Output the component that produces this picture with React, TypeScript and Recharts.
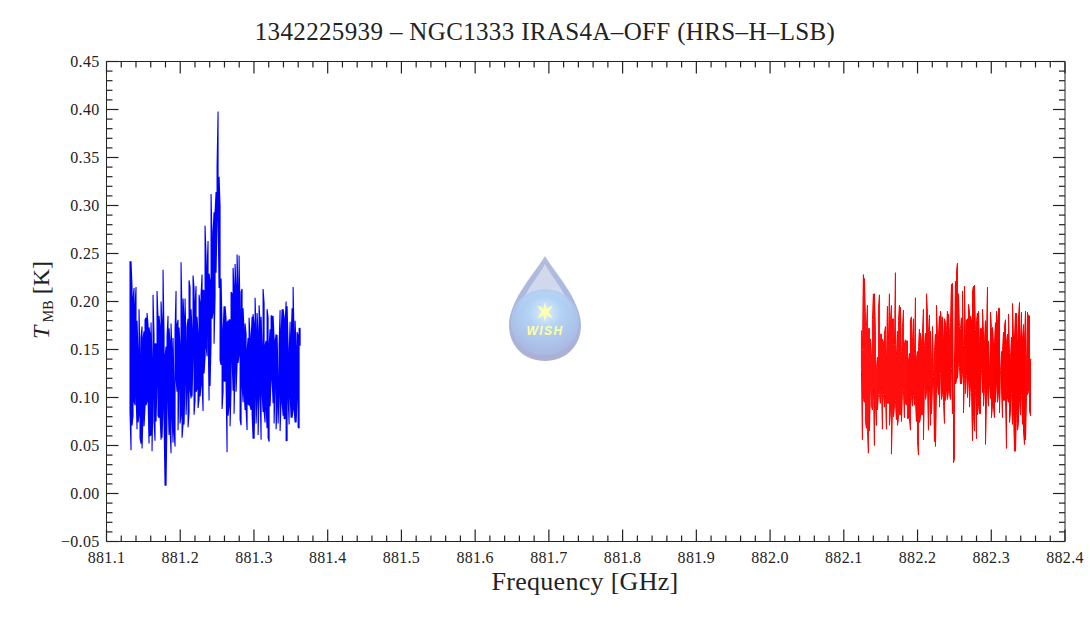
import { LineChart, Line, XAxis, YAxis } from "recharts"

const blueHigh = [
  0.242, 0.242, 0.215, 0.203, 0.214, 0.195, 0.215, 0.18, 0.146, 0.192, 0.138, 0.163, 0.174, 0.161, 0.169, 0.181, 0.183, 0.188, 0.176, 0.173,
  0.166, 0.178, 0.137, 0.207, 0.164, 0.156, 0.156, 0.211, 0.183, 0.185, 0.173, 0.2, 0.178, 0.233, 0.164, 0.143, 0.153, 0.164, 0.185, 0.172,
  0.157, 0.177, 0.147, 0.162, 0.109, 0.17, 0.211, 0.176, 0.181, 0.173, 0.154, 0.241, 0.181, 0.203, 0.182, 0.203, 0.152, 0.174, 0.182, 0.222,
  0.215, 0.192, 0.169, 0.227, 0.214, 0.198, 0.216, 0.184, 0.165, 0.207, 0.198, 0.207, 0.228, 0.212, 0.211, 0.279, 0.247, 0.232, 0.263, 0.229,
  0.221, 0.312, 0.261, 0.273, 0.293, 0.293, 0.314, 0.341, 0.398, 0.33, 0.299, 0.224, 0.171, 0.167, 0.195, 0.195, 0.182, 0.178, 0.18, 0.181,
  0.181, 0.21, 0.208, 0.235, 0.214, 0.239, 0.214, 0.249, 0.212, 0.248, 0.181, 0.21, 0.213, 0.193, 0.167, 0.177, 0.166, 0.149, 0.162, 0.183,
  0.165, 0.158, 0.184, 0.187, 0.176, 0.204, 0.166, 0.188, 0.167, 0.196, 0.178, 0.184, 0.15, 0.213, 0.198, 0.154, 0.159, 0.192, 0.183, 0.154,
  0.171, 0.185, 0.185, 0.185, 0.161, 0.158, 0.166, 0.165, 0.117, 0.154, 0.191, 0.167, 0.192, 0.192, 0.183, 0.178, 0.2, 0.195, 0.152, 0.143,
  0.179, 0.161, 0.193, 0.215, 0.161, 0.18, 0.149, 0.168, 0.165, 0.172, 0.172,
]

const blueLow = [
  0.085, 0.045, 0.071, 0.081, 0.096, 0.092, 0.105, 0.067, 0.074, 0.082, 0.058, 0.052, 0.047, 0.082, 0.07, 0.09, 0.092, 0.096, 0.101, 0.052,
  0.06, 0.061, 0.044, 0.106, 0.075, 0.055, 0.075, 0.116, 0.081, 0.079, 0.082, 0.056, 0.058, 0.092, 0.077, 0.008, 0.008, 0.083, 0.101, 0.061,
  0.068, 0.042, 0.081, 0.053, 0.065, 0.049, 0.12, 0.106, 0.066, 0.115, 0.073, 0.082, 0.058, 0.072, 0.072, 0.12, 0.082, 0.108, 0.069, 0.084,
  0.109, 0.099, 0.101, 0.146, 0.082, 0.097, 0.106, 0.109, 0.089, 0.098, 0.101, 0.114, 0.114, 0.086, 0.125, 0.142, 0.153, 0.143, 0.173, 0.097,
  0.112, 0.158, 0.182, 0.189, 0.156, 0.205, 0.23, 0.289, 0.289, 0.214, 0.139, 0.134, 0.088, 0.106, 0.117, 0.117, 0.114, 0.043, 0.081, 0.092,
  0.07, 0.11, 0.14, 0.107, 0.083, 0.133, 0.106, 0.135, 0.136, 0.145, 0.077, 0.071, 0.113, 0.095, 0.106, 0.087, 0.087, 0.066, 0.093, 0.092,
  0.091, 0.087, 0.083, 0.057, 0.057, 0.105, 0.073, 0.1, 0.061, 0.101, 0.109, 0.056, 0.105, 0.085, 0.085, 0.074, 0.09, 0.068, 0.058, 0.054,
  0.091, 0.12, 0.12, 0.094, 0.073, 0.114, 0.067, 0.094, 0.073, 0.106, 0.065, 0.096, 0.096, 0.081, 0.078, 0.078, 0.055, 0.055, 0.101, 0.072,
  0.103, 0.079, 0.079, 0.089, 0.087, 0.074, 0.074, 0.101, 0.069, 0.068, 0.154,
]

const redHigh = [
  0.17, 0.15, 0.228, 0.224, 0.185, 0.174, 0.196, 0.172, 0.172, 0.161, 0.146, 0.181, 0.208, 0.208, 0.17, 0.131, 0.142, 0.193, 0.207, 0.166,
  0.166, 0.161, 0.158, 0.167, 0.174, 0.136, 0.195, 0.16, 0.208, 0.181, 0.196, 0.182, 0.182, 0.155, 0.23, 0.144, 0.169, 0.18, 0.196, 0.194,
  0.148, 0.173, 0.191, 0.157, 0.16, 0.159, 0.159, 0.138, 0.146, 0.181, 0.184, 0.158, 0.182, 0.146, 0.204, 0.141, 0.148, 0.153, 0.171, 0.167,
  0.159, 0.168, 0.192, 0.154, 0.167, 0.208, 0.19, 0.169, 0.186, 0.169, 0.142, 0.174, 0.129, 0.149, 0.166, 0.196, 0.167, 0.165, 0.185, 0.19,
  0.181, 0.184, 0.162, 0.182, 0.178, 0.17, 0.19, 0.187, 0.167, 0.178, 0.218, 0.219, 0.083, 0.136, 0.221, 0.232, 0.24, 0.208, 0.174, 0.172,
  0.183, 0.211, 0.154, 0.216, 0.167, 0.181, 0.182, 0.197, 0.19, 0.185, 0.181, 0.211, 0.216, 0.217, 0.171, 0.18, 0.188, 0.19, 0.158, 0.172,
  0.172, 0.192, 0.17, 0.16, 0.18, 0.168, 0.215, 0.159, 0.134, 0.189, 0.173, 0.173, 0.158, 0.157, 0.178, 0.19, 0.181, 0.193, 0.193, 0.128,
  0.148, 0.15, 0.168, 0.175, 0.181, 0.159, 0.166, 0.187, 0.147, 0.142, 0.163, 0.198, 0.163, 0.163, 0.188, 0.188, 0.16, 0.185, 0.199, 0.162,
  0.189, 0.162, 0.176, 0.162, 0.19, 0.14, 0.189, 0.186, 0.185, 0.14, 0.14,
]

const redLow = [
  0.129, 0.056, 0.098, 0.095, 0.075, 0.068, 0.065, 0.042, 0.065, 0.11, 0.091, 0.087, 0.111, 0.05, 0.092, 0.071, 0.087, 0.103, 0.103, 0.094,
  0.112, 0.067, 0.103, 0.09, 0.103, 0.067, 0.094, 0.094, 0.071, 0.084, 0.041, 0.086, 0.08, 0.09, 0.097, 0.077, 0.071, 0.077, 0.082, 0.082,
  0.075, 0.106, 0.108, 0.079, 0.094, 0.092, 0.078, 0.078, 0.078, 0.066, 0.1, 0.091, 0.102, 0.092, 0.096, 0.075, 0.054, 0.04, 0.074, 0.078,
  0.082, 0.082, 0.056, 0.114, 0.098, 0.103, 0.113, 0.066, 0.112, 0.071, 0.083, 0.109, 0.122, 0.054, 0.049, 0.104, 0.113, 0.103, 0.09, 0.125,
  0.098, 0.103, 0.095, 0.073, 0.097, 0.105, 0.098, 0.106, 0.104, 0.098, 0.13, 0.083, 0.032, 0.036, 0.114, 0.117, 0.12, 0.135, 0.131, 0.114,
  0.114, 0.124, 0.084, 0.119, 0.104, 0.123, 0.1, 0.117, 0.09, 0.112, 0.105, 0.055, 0.08, 0.065, 0.107, 0.057, 0.082, 0.091, 0.083, 0.083,
  0.129, 0.105, 0.091, 0.108, 0.051, 0.093, 0.107, 0.091, 0.113, 0.099, 0.079, 0.091, 0.089, 0.079, 0.095, 0.114, 0.095, 0.103, 0.084, 0.128,
  0.107, 0.079, 0.097, 0.097, 0.095, 0.047, 0.098, 0.095, 0.074, 0.084, 0.104, 0.072, 0.084, 0.044, 0.044, 0.085, 0.066, 0.073, 0.095, 0.082,
  0.102, 0.072, 0.064, 0.051, 0.056, 0.1, 0.103, 0.106, 0.086, 0.081, 0.14,
]

const freqTicks = Array.from({ length: 66 }, (_, i) => (88110 + 2 * i) / 100)
const tempTicks = Array.from({ length: 51 }, (_, i) => (i - 5) / 100)

const BLUE_START = 881.1319
const RED_START = 882.1239
const CHANNEL = 0.001357
const SERIF = "'Liberation Serif', serif"
const INK = "#222222"

// each channel column goes high-low then low-high so the band stays solid
function zigzag(start: number, high: number[], low: number[]) {
  const rows: { f: number; t: number }[] = []
  high.forEach((h, i) => {
    const f = start + i * CHANNEL
    if (i % 2 === 0) {
      rows.push({ f, t: h }, { f, t: low[i] })
    } else {
      rows.push({ f, t: low[i] }, { f, t: h })
    }
  })
  return rows
}

const blueData = zigzag(BLUE_START, blueHigh, blueLow)
const redData = zigzag(RED_START, redHigh, redLow)

const isMajorFreq = (v: number) => Math.round(v * 100) % 10 === 0
const isMajorTemp = (v: number) => Math.round(v * 100) % 5 === 0

function FreqTick({ x, y, payload, top }: any) {
  const len = isMajorFreq(payload.value) ? 12 : 6
  const dir = top ? 1 : -1
  return (
    <g>
      <line x1={x} x2={x} y1={y} y2={y + dir * len} stroke={INK} strokeWidth={1.2} />
      {!top && isMajorFreq(payload.value) && (
        <text x={x} y={y + 21} textAnchor="middle" fontFamily={SERIF} fontSize={16} letterSpacing={0.3} fill={INK}>
          {payload.value.toFixed(1)}
        </text>
      )}
    </g>
  )
}

function TempTick({ x, y, payload, right }: any) {
  const len = isMajorTemp(payload.value) ? 12 : 6
  const dir = right ? -1 : 1
  return (
    <g>
      <line x1={x} x2={x + dir * len} y1={y} y2={y} stroke={INK} strokeWidth={1.2} />
      {!right && isMajorTemp(payload.value) && (
        <text x={x - 7} y={y + 5} textAnchor="end" fontFamily={SERIF} fontSize={16} letterSpacing={0.3} fill={INK}>
          {payload.value.toFixed(2).replace("-", "\u2212")}
        </text>
      )}
    </g>
  )
}

function WishLogo() {
  const drop = "M545 256 C553 270 581 300 581 325 C581 347 565 361 545 361 C525 361 509 347 509 325 C509 300 537 270 545 256 Z"
  return (
    <svg width={1090} height={618} style={{ position: "absolute", left: 0, top: 0, pointerEvents: "none" }}>
      <defs>
        <linearGradient id="dropBody" x1="0" y1="0" x2="0" y2="1">
          <stop offset="0" stopColor="#b3bcdc" />
          <stop offset="0.5" stopColor="#a7b8e3" />
          <stop offset="1" stopColor="#acb0d2" />
        </linearGradient>
        <linearGradient id="dropShine" x1="0" y1="0" x2="0" y2="1">
          <stop offset="0" stopColor="#d3d9ec" />
          <stop offset="1" stopColor="#cdd8ef" />
        </linearGradient>
        <radialGradient id="dropGlow" cx="0.5" cy="0.36" r="0.6">
          <stop offset="0" stopColor="#e4f3fe" />
          <stop offset="0.4" stopColor="#b4d6f7" />
          <stop offset="1" stopColor="#a9bbe6" />
        </radialGradient>
        <filter id="soft">
          <feGaussianBlur stdDeviation="0.7" />
        </filter>
      </defs>
      <g filter="url(#soft)">
        <path d={drop} fill="url(#dropBody)" />
        <path d="M545 264 C551 276 570 298 574 316 C562 286 528 286 516 316 C520 298 539 276 545 264 Z" fill="url(#dropShine)" />
        <ellipse cx={545} cy={322} rx={34} ry={33} fill="url(#dropGlow)" opacity={0.9} />
      </g>
      <polygon
        points="545,302 546.5,308.5 553,305.5 548.5,312 553,318.5 546.5,315.5 545,322 543.5,315.5 537,318.5 541.5,312 537,305.5 543.5,308.5"
        fill="#ffffb0"
      />
      <text x={545} y={335} textAnchor="middle" fontFamily="'Liberation Sans', sans-serif" fontStyle="italic" fontWeight="bold" fontSize={12} letterSpacing={1.4} fill="#ffffa0">
        WISH
      </text>
    </svg>
  )
}

export default function App() {
  return (
    <div style={{ position: "absolute", left: 0, top: 0, width: 1090, height: 618, background: "#fff" }}>
      <LineChart width={1090} height={618} margin={{ top: 60.5, right: 24, bottom: 0, left: 0.5 }}>
        <XAxis
          xAxisId="bottom"
          type="number"
          dataKey="f"
          domain={[881.1, 882.4]}
          ticks={freqTicks}
          interval={0}
          allowDataOverflow
          height={76.5}
          tickSize={0}
          tickMargin={0}
          tickLine={false}
          stroke={INK}
          tick={<FreqTick />}
        />
        <XAxis
          xAxisId="top"
          orientation="top"
          type="number"
          dataKey="f"
          domain={[881.1, 882.4]}
          ticks={freqTicks}
          interval={0}
          allowDataOverflow
          height={1}
          tickSize={0}
          tickMargin={0}
          tickLine={false}
          stroke={INK}
          tick={<FreqTick top />}
        />
        <YAxis
          yAxisId="left"
          type="number"
          domain={[-0.05, 0.45]}
          ticks={tempTicks}
          interval={0}
          allowDataOverflow
          width={106}
          tickSize={0}
          tickMargin={0}
          tickLine={false}
          stroke={INK}
          tick={<TempTick />}
        />
        <YAxis
          yAxisId="right"
          orientation="right"
          type="number"
          domain={[-0.05, 0.45]}
          ticks={tempTicks}
          interval={0}
          allowDataOverflow
          width={1}
          tickSize={0}
          tickMargin={0}
          tickLine={false}
          stroke={INK}
          tick={<TempTick right />}
        />
        <Line
          xAxisId="bottom"
          yAxisId="left"
          data={blueData}
          dataKey="t"
          stroke="#0000ff"
          strokeWidth={1.1}
          strokeLinejoin="bevel"
          dot={false}
          isAnimationActive={false}
        />
        <Line
          xAxisId="bottom"
          yAxisId="left"
          data={redData}
          dataKey="t"
          stroke="#ff0000"
          strokeWidth={1}
          strokeLinejoin="bevel"
          dot={false}
          isAnimationActive={false}
        />
        <text x={545} y={40} textAnchor="middle" fontFamily={SERIF} fontSize={25} letterSpacing={0.35} fill={INK}>
          1342225939 {"\u2013"} NGC1333 IRAS4A{"\u2013"}OFF (HRS{"\u2013"}H{"\u2013"}LSB)
        </text>
        <text x={585} y={590} textAnchor="middle" fontFamily={SERIF} fontSize={26} letterSpacing={0.3} fill={INK}>
          Frequency [GHz]
        </text>
        <text transform="translate(49,300) rotate(-90)" textAnchor="middle" fontFamily={SERIF} fontSize={24} fill={INK}>
          <tspan fontStyle="italic">T</tspan>
          <tspan fontSize={14} dy={4}> MB</tspan>
          <tspan dy={-4}> [K]</tspan>
        </text>
      </LineChart>
      <WishLogo />
    </div>
  )
}
